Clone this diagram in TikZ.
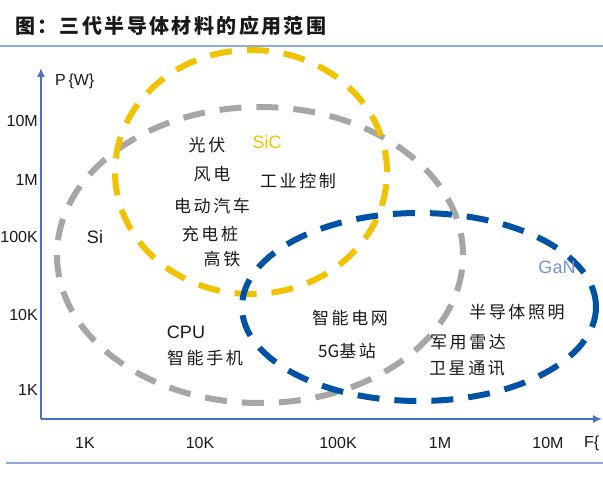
\documentclass[tikz,border=0pt]{standalone}
\usepackage{fontspec}
\usetikzlibrary{arrows.meta}
\setmainfont{Liberation Sans}
\newfontfamily\cjk[LetterSpace=15]{Noto Sans CJK SC}
\newfontfamily\cjktitle[LetterSpace=12]{Noto Sans CJK SC}
\definecolor{axisblue}{RGB}{68,114,196}
\definecolor{ruleblue}{RGB}{143,170,220}
\definecolor{sigray}{RGB}{166,166,166}
\definecolor{sicyellow}{RGB}{240,194,0}
\definecolor{ganblue}{RGB}{0,82,164}
\definecolor{ganlabel}{RGB}{112,150,210}
\definecolor{txt}{RGB}{25,25,25}
\begin{document}
\begin{tikzpicture}[x=1pt,y=-1pt,
  lab/.style={font=\fontsize{16}{18}\selectfont, inner sep=0pt, text=txt},
  big/.style={font=\fontsize{18}{20}\selectfont, inner sep=0pt},
  zh/.style={font=\cjk\fontsize{17}{19}\selectfont, inner sep=0pt, text=txt},
  axisline/.style={draw=axisblue, line width=1.6pt},
  ring/.style={line width=6pt, dash pattern=on 22pt off 15pt},
  rulerline/.style={draw=ruleblue, line width=1.5pt}]
\useasboundingbox (0,0) rectangle (603,495);
% title
\node[anchor=west, inner sep=0pt, font=\cjktitle\bfseries\fontsize{20}{22}\selectfont, text=txt] (title) at (15,26) {图：三代半导体材料的应用范围};
\coordinate (r1a) at (0,46); \coordinate (r1b) at (603,46);
\draw[rulerline] (r1a) -- (r1b);
\coordinate (r2a) at (6,463); \coordinate (r2b) at (603,463);
\draw[rulerline] (r2a) -- (r2b);
% ellipses
\draw[ring, sigray] (260,255) ellipse [x radius=203pt, y radius=148pt];
\draw[ring, sicyellow] (251,172) ellipse [x radius=136pt, y radius=122pt];
\draw[ring, ganblue] (419,307) ellipse [x radius=177pt, y radius=94pt];
% axes
\coordinate (O) at (41,419);
\coordinate (ytop) at (41,68);
\coordinate (xend) at (602,419);
\draw[axisline, -{Latex[length=9pt,width=8pt]}] (O) -- (ytop);
\draw[axisline, -{Latex[length=9pt,width=8pt]}] (O) -- (xend);
% axis labels
\node[lab, anchor=west] (plab) at (55,81) {P\,{\{}W{\}}};
\node[lab, anchor=east] (y1) at (38,121) {10M};
\node[lab, anchor=east] (y2) at (38,180) {1M};
\node[lab, anchor=east] (y3) at (38,237) {100K};
\node[lab, anchor=east] (y4) at (38,315) {10K};
\node[lab, anchor=east] (y5) at (38,390) {1K};
\node[lab] (x1) at (85,443) {1K};
\node[lab] (x2) at (200,443) {10K};
\node[lab] (x3) at (338,443) {100K};
\node[lab] (x4) at (440,443) {1M};
\node[lab] (x5) at (548,443) {10M};
\node[lab, anchor=west] (flab) at (584,443) {F{\{}};
% material labels
\node[big, text=sicyellow] (sic) at (267,142) {SiC};
\node[big, text=txt] (si) at (95,237) {Si};
\node[big, text=ganlabel] (gan) at (557,267) {GaN};
\node[big, text=txt] (cpu) at (186,332) {CPU};
% applications
\node[zh] (a1) at (207,145) {光伏};
\node[zh] (a2) at (212,174) {风电};
\node[zh] (a3) at (212,206) {电动汽车};
\node[zh] (a4) at (210,234) {充电桩};
\node[zh] (a5) at (222,259) {高铁};
\node[zh] (a6) at (298,181) {工业控制};
\node[zh] (a7) at (205,358) {智能手机};
\node[zh] (a8) at (350,318) {智能电网};
\node[zh] (a9) at (347,351) {{\addfontfeature{LetterSpace=0}5G}基站};
\node[zh] (a10) at (517,312) {半导体照明};
\node[zh] (a11) at (468,342) {军用雷达};
\node[zh] (a12) at (467,368) {卫星通讯};
\end{tikzpicture}
\end{document}
